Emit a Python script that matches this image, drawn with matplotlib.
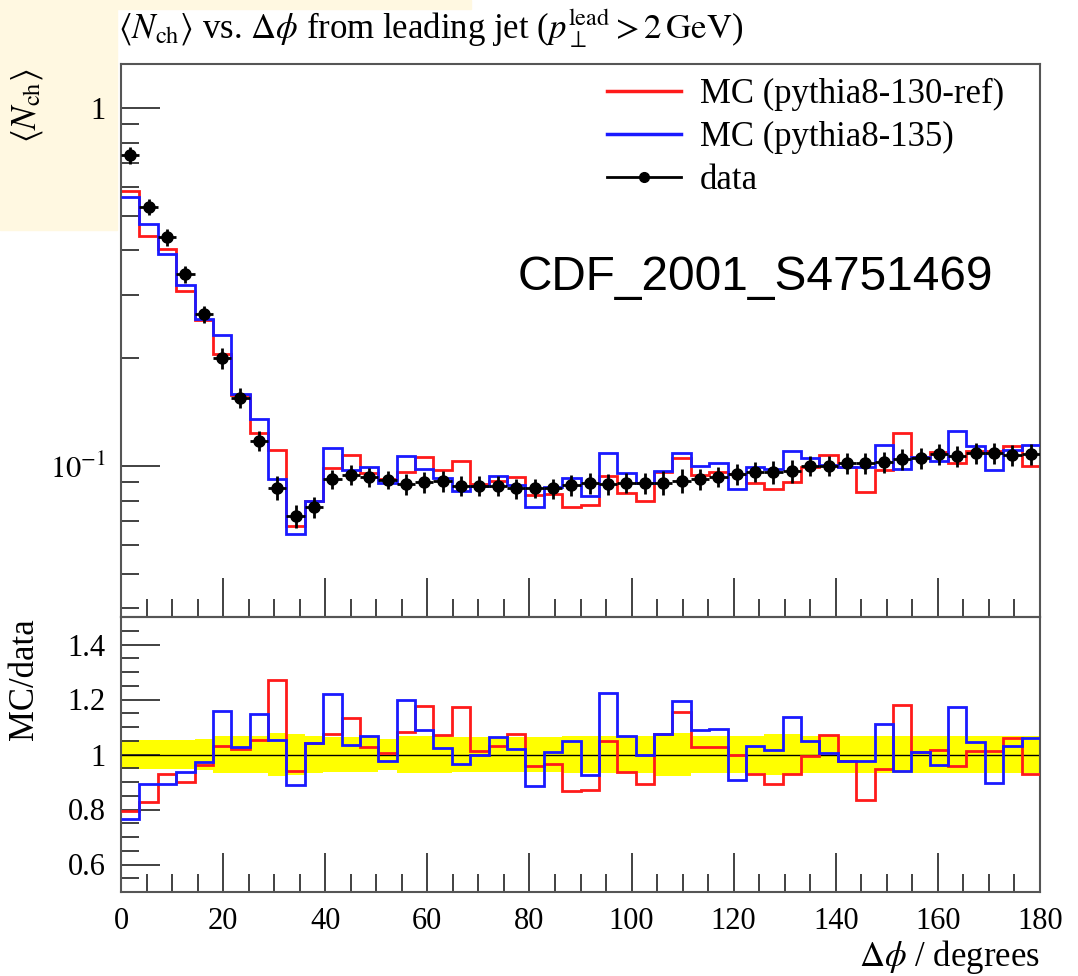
import numpy as np
import matplotlib
matplotlib.use("Agg")
import matplotlib.pyplot as plt
from matplotlib.lines import Line2D
from matplotlib.patches import Rectangle
from matplotlib.ticker import MultipleLocator, LogLocator, NullFormatter, FixedLocator, FuncFormatter

plt.rcParams['font.family'] = ['Liberation Serif', 'DejaVu Serif']
plt.rcParams['mathtext.fontset'] = 'stix'

# ---------------- data ----------------
bin_edges = np.linspace(0, 180, 51)

data_vals = [0.739, 0.530, 0.436, 0.343, 0.265, 0.200, 0.155, 0.1177, 0.0870, 0.0725,
             0.0767, 0.0918, 0.0944, 0.0930, 0.0914, 0.0889, 0.0901, 0.0908, 0.0881, 0.0881,
             0.0881, 0.0866, 0.0867, 0.0866, 0.0885, 0.0895, 0.0891, 0.0898, 0.0895, 0.0898,
             0.0910, 0.0918, 0.0934, 0.0950, 0.0964, 0.0964, 0.0970, 0.1002, 0.1002, 0.1017,
             0.1017, 0.1028, 0.1044, 0.1051, 0.1078, 0.1066, 0.1089, 0.1085, 0.1073, 0.1078]

data_relerr = [0.054, 0.054, 0.054, 0.054, 0.055, 0.066, 0.066, 0.066, 0.078, 0.075,
               0.066, 0.063, 0.063, 0.063, 0.057, 0.067, 0.067, 0.067, 0.063, 0.063,
               0.063, 0.063, 0.064, 0.064, 0.066, 0.066, 0.066, 0.066, 0.066, 0.077,
               0.077, 0.066, 0.066, 0.066, 0.066, 0.073, 0.073, 0.067, 0.067, 0.067,
               0.067, 0.067, 0.067, 0.067, 0.067, 0.067, 0.067, 0.067, 0.067, 0.067]

mc130 = [0.586, 0.438, 0.405, 0.309, 0.255, 0.206, 0.158, 0.1237, 0.1106, 0.0682,
         0.0799, 0.0987, 0.1070, 0.0954, 0.0919, 0.0962, 0.1060, 0.0973, 0.1033, 0.0893,
         0.0907, 0.0931, 0.0830, 0.0837, 0.0766, 0.0779, 0.0936, 0.0841, 0.0800, 0.0965,
         0.1050, 0.0942, 0.0960, 0.0948, 0.0897, 0.0862, 0.0902, 0.0996, 0.1074, 0.0993,
         0.0848, 0.0975, 0.1233, 0.1059, 0.1097, 0.1021, 0.1104, 0.1100, 0.1137, 0.1003]

mc135 = [0.565, 0.474, 0.390, 0.321, 0.258, 0.232, 0.159, 0.1351, 0.0917, 0.0644,
         0.0799, 0.1121, 0.0976, 0.0994, 0.0894, 0.1066, 0.0980, 0.0928, 0.0849, 0.0881,
         0.0937, 0.0883, 0.0768, 0.0875, 0.0927, 0.0827, 0.1090, 0.0957, 0.0895, 0.0966,
         0.1088, 0.0999, 0.1022, 0.0862, 0.0995, 0.0979, 0.1102, 0.1053, 0.1006, 0.0993,
         0.0993, 0.1143, 0.0981, 0.1059, 0.1035, 0.1249, 0.1138, 0.0974, 0.1105, 0.1143]

labels = ['MC (pythia8-130-ref)', 'MC (pythia8-135)', 'data']
title = (r'$\langle N_{\mathrm{ch}}\rangle$ vs. $\Delta\phi$ from leading jet '
         r'($p_\perp^{\mathrm{lead}} > 2\,\mathrm{GeV}$)')

# ---------------- figure ----------------
W, H = 1078, 976
fig = plt.figure(figsize=(W / 100, H / 100), dpi=100)

def fx(px):
    return px / W

def fy(py):
    return 1 - py / H

# pale highlight background at top-left (drawn behind everything)
cream = '#fff8e1'
fig.patches.append(Rectangle((0, fy(9)), fx(471), 9 / H, transform=fig.transFigure,
                             color=cream, zorder=-10))
fig.patches.append(Rectangle((0, fy(230)), fx(117), 221 / H, transform=fig.transFigure,
                             color=cream, zorder=-10))

L, R = 121, 1040
ax1 = fig.add_axes([fx(L), fy(617), fx(R) - fx(L), fy(64) - fy(617)])
ax2 = fig.add_axes([fx(L), fy(892), fx(R) - fx(L), fy(617) - fy(892)], sharex=ax1)

d = np.array(data_vals)
e = np.array(data_relerr)
m1 = np.array(mc130)
m2 = np.array(mc135)
centers = 0.5 * (bin_edges[1:] + bin_edges[:-1])
halfw = 0.5 * np.diff(bin_edges)

red = '#ff1a1a'
blue = '#1a1aff'

ax1.stairs(m1, bin_edges, baseline=None, color=red, lw=2.0, zorder=2)
ax1.stairs(m2, bin_edges, baseline=None, color=blue, lw=2.0, zorder=3)
ax1.errorbar(centers, d, yerr=d * e, xerr=halfw, fmt='o', color='black', ms=8,
             elinewidth=2.0, capsize=0, zorder=4)

ax1.set_yscale('log')
ax1.set_ylim(0.03787, 1.327)
ax1.set_xlim(0, 180)

# ratio panel
band_lo = np.append(1 - e, 1 - e[-1])
band_hi = np.append(1 + e, 1 + e[-1])
ax2.fill_between(bin_edges, band_lo, band_hi, step='post', color='#ffff00', lw=0, zorder=1)
ax2.axhline(1.0, color='black', lw=1.0, zorder=2)
ax2.stairs(m1 / d, bin_edges, baseline=None, color=red, lw=2.0, zorder=3)
ax2.stairs(m2 / d, bin_edges, baseline=None, color=blue, lw=2.0, zorder=4)
ax2.set_ylim(0.5, 1.5)

frame_col = '#555555'
for ax in (ax1, ax2):
    ax.patch.set_alpha(0)
    for s in ax.spines.values():
        s.set_color(frame_col)
        s.set_linewidth(1.5)
    ax.tick_params(which='both', direction='in', top=False, right=False,
                   color='#333333', width=1.3, labelsize=22)
    ax.tick_params(which='major', length=28, pad=11)
    ax.tick_params(which='minor', length=13)
    ax.xaxis.set_major_locator(MultipleLocator(20))
    ax.xaxis.set_minor_locator(MultipleLocator(5))

ax1.tick_params(axis='x', labelbottom=False)
ax1.yaxis.set_major_locator(FixedLocator([0.1, 1.0]))
ax1.yaxis.set_major_formatter(FuncFormatter(
    lambda v, p: '1' if abs(v - 1) < 1e-9 else r'$10^{-1}$'))
ax1.yaxis.set_minor_locator(LogLocator(base=10, subs=np.arange(2, 10), numticks=20))
ax1.yaxis.set_minor_formatter(NullFormatter())

ax2.yaxis.set_major_locator(MultipleLocator(0.2))
ax2.yaxis.set_minor_locator(MultipleLocator(0.05))
ax2.yaxis.set_major_formatter(FuncFormatter(lambda v, p: ('%g' % round(v, 2))))

# legend
handles = [Line2D([], [], color=red, lw=2.5),
           Line2D([], [], color=blue, lw=2.5),
           Line2D([], [], color='black', lw=2.0, marker='o', ms=7)]
fig.legend(handles, labels, loc='upper left', bbox_to_anchor=(fx(607), fy(78)),
           frameon=False, fontsize=25, handlelength=2.13, handletextpad=0.55,
           labelspacing=0.29, borderpad=0, borderaxespad=0)

# texts
fig.text(fx(118), fy(38), title, fontsize=25, ha='left', va='baseline')
fig.text(fx(27), fy(68), r'$\langle N_{\mathrm{ch}}\rangle$', rotation=90,
         fontsize=25, ha='center', va='top')
fig.text(fx(24), fy(618), 'MC/data', rotation=90, fontsize=25, ha='center', va='top')
fig.text(fx(R), fy(966), r'$\Delta\phi$ / degrees', fontsize=25, ha='right', va='baseline')
fig.text(fx(518), fy(290), 'CDF_2001_S4751469', fontsize=34.4, ha='left', va='baseline',
         family=['Liberation Sans', 'DejaVu Sans'])

fig.savefig('out.png', dpi=100)
